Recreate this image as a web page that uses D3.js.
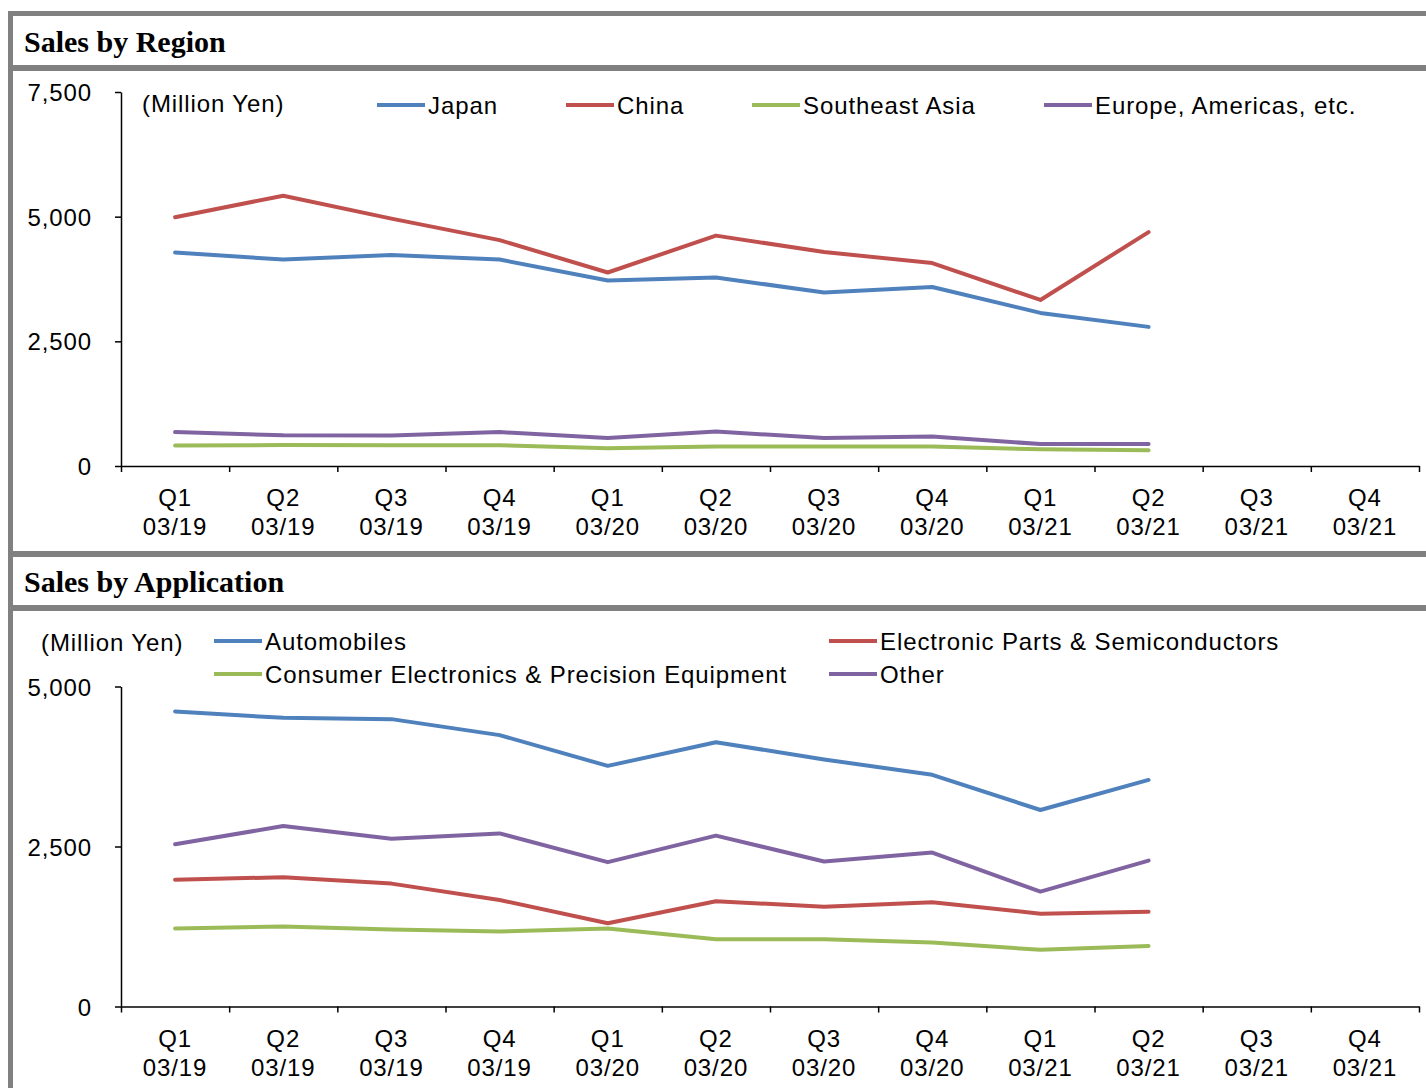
<!DOCTYPE html>
<html>
<head>
<meta charset="utf-8">
<script src="https://cdn.jsdelivr.net/npm/d3@7"></script>
<style>
  body { margin: 0; background: #fff; }
  text { font-family: "Liberation Sans", Arial, sans-serif; fill: #000; letter-spacing: 0.9px; }
</style>
</head>
<body>
<div id="chart"></div>
<script>
// quarters on the x axis
const quarters = ["Q1", "Q2", "Q3", "Q4", "Q1", "Q2", "Q3", "Q4", "Q1", "Q2", "Q3", "Q4"];
const periods = ["03/19", "03/19", "03/19", "03/19", "03/20", "03/20", "03/20", "03/20", "03/21", "03/21", "03/21", "03/21"];

// Sales by Region (Million Yen)
const regionNames = ["Japan", "China", "Southeast Asia", "Europe, Americas, etc."];
const japan = [4280, 4140, 4230, 4140, 3720, 3780, 3480, 3590, 3070, 2790];
const china = [4990, 5420, 4960, 4530, 3880, 4620, 4290, 4070, 3330, 4690];
const southeastAsia = [410, 420, 415, 415, 355, 390, 390, 390, 335, 315];
const europeAmericas = [680, 615, 610, 680, 560, 690, 560, 590, 440, 440];

// Sales by Application (Million Yen)
const appNames = ["Automobiles", "Electronic Parts & Semiconductors", "Consumer Electronics & Precision Equipment", "Other"];
const automobiles = [4610, 4510, 4490, 4240, 3760, 4130, 3860, 3620, 3070, 3540];
const electronicParts = [1980, 2020, 1920, 1665, 1300, 1645, 1560, 1630, 1450, 1480];
const consumerElectronics = [1220, 1250, 1205, 1170, 1220, 1050, 1050, 1000, 885, 945];
const other = [2535, 2820, 2620, 2705, 2255, 2670, 2265, 2405, 1795, 2280];

const colors = ["#4F81BD", "#C0504D", "#9BBB59", "#8064A2"];

const W = 1426, H = 1088;
const svg = d3.select("#chart").append("svg").attr("width", W).attr("height", H);

// frame: gray bars
const gray = "#808080";
svg.append("rect").attr("x", 8).attr("y", 11).attr("width", 5).attr("height", H - 11).attr("fill", gray);
[[11, 5], [65, 6], [551, 6], [605, 6]].forEach(([y, h]) => {
    svg.append("rect").attr("x", 8).attr("y", y).attr("width", W - 8).attr("height", h).attr("fill", gray);
});

svg.append("text").attr("x", 24).attr("y", 52).text("Sales by Region")
    .style("font-family", "'Liberation Serif', serif").style("font-weight", "bold").style("font-size", "30px").style("letter-spacing", "0px");
svg.append("text").attr("x", 24).attr("y", 592).text("Sales by Application")
    .style("font-family", "'Liberation Serif', serif").style("font-weight", "bold").style("font-size", "30px").style("letter-spacing", "0px");

function drawChart(opts) {
    const { top, bottom, yMax, ticks, series, legend, unitPos } = opts;
    const xLeft = 121, xRight = 1419;
    const xb = d3.scaleBand().domain(d3.range(12)).range([xLeft, xRight]);
    const xl = d3.scaleLinear().domain([0, 12]).range([xLeft, xRight]);
    const y = d3.scaleLinear().domain([0, yMax]).range([bottom, top]);

    const g = svg.append("g");

    // y axis
    const ya = g.append("g").attr("transform", `translate(${xLeft},0)`)
        .call(d3.axisLeft(y).tickValues(ticks).tickFormat(d3.format(",")).tickSize(6).tickSizeOuter(0).tickPadding(23));
    ya.selectAll("text").style("font-size", "24px").attr("dy", "0.36em");
    ya.selectAll("line, path").attr("stroke", "#000").attr("stroke-width", 1.5);

    // x axis: boundary ticks
    const xa = g.append("g").attr("transform", `translate(0,${bottom})`)
        .call(d3.axisBottom(xl).tickValues(d3.range(13)).tickFormat("").tickSize(6).tickSizeOuter(0));
    xa.selectAll("line, path").attr("stroke", "#000").attr("stroke-width", 1.5);

    // category labels
    const lbl = g.append("g").selectAll("text").data(d3.range(12)).enter().append("text")
        .attr("text-anchor", "middle").style("font-size", "24px");
    lbl.append("tspan").attr("x", i => xb(i) + xb.bandwidth() / 2).attr("y", bottom + 40).text(i => quarters[i]);
    lbl.append("tspan").attr("x", i => xb(i) + xb.bandwidth() / 2).attr("y", bottom + 69).text(i => periods[i]);

    // lines
    const line = d3.line().x((d, i) => xb(i) + xb.bandwidth() / 2).y(d => y(d));
    series.forEach((s, k) => {
        g.append("path").datum(s.values).attr("d", line).attr("fill", "none")
            .attr("stroke", s.color).attr("stroke-width", 4).attr("stroke-linejoin", "round").attr("stroke-linecap", "round");
    });

    // unit label
    g.append("text").attr("x", unitPos[0]).attr("y", unitPos[1]).attr("dy", "0.36em")
        .style("font-size", "24px").text("(Million Yen)");

    // legend
    legend.forEach((l, k) => {
        g.append("line").attr("x1", l.x).attr("x2", l.x + 48).attr("y1", l.y).attr("y2", l.y)
            .attr("stroke", series[k].color).attr("stroke-width", 4);
        g.append("text").attr("x", l.x + 51).attr("y", l.y).attr("dy", "0.36em")
            .style("font-size", "24px").text(series[k].name);
    });
}

drawChart({
    top: 92, bottom: 466, yMax: 7500, ticks: [0, 2500, 5000, 7500],
    series: [japan, china, southeastAsia, europeAmericas].map((v, i) => ({ name: regionNames[i], values: v, color: colors[i] })),
    legend: [{ x: 377, y: 105 }, { x: 566, y: 105 }, { x: 752, y: 105 }, { x: 1044, y: 105 }],
    unitPos: [142, 103]
});

drawChart({
    top: 686.5, bottom: 1006.5, yMax: 5000, ticks: [0, 2500, 5000],
    series: [automobiles, electronicParts, consumerElectronics, other].map((v, i) => ({ name: appNames[i], values: v, color: colors[i] })),
    legend: [{ x: 214, y: 641 }, { x: 829, y: 641 }, { x: 214, y: 674 }, { x: 829, y: 674 }],
    unitPos: [41, 642]
});
</script>
</body>
</html>
